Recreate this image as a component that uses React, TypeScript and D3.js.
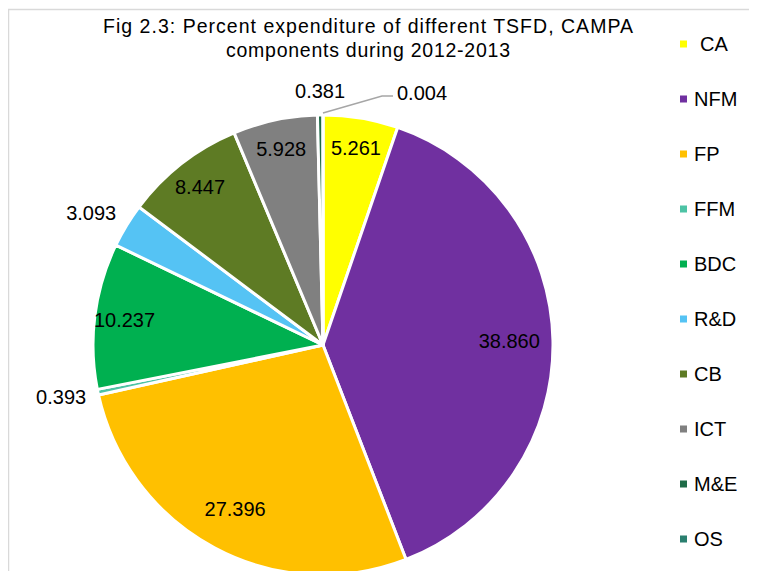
import React from "react";
import * as d3 from "d3";

const categories = ["CA", "NFM", "FP", "FFM", "BDC", "R&D", "CB", "ICT", "M&E", "OS"];
const values = [5.261, 38.86, 27.396, 0.393, 10.237, 3.093, 8.447, 5.928, 0.381, 0.004];
const colors = ["#FFFF00", "#7030A0", "#FFC000", "#4DC3A5", "#00B050", "#55C3F4", "#5E7B24", "#808080", "#1E6B47", "#2A7F6F"];
const titleLines = ["Fig 2.3: Percent expenditure of different TSFD, CAMPA", "components during 2012-2013"];
const titleWidths = [530, 284];

const W = 749;
const H = 563;
const cx = 315;
const cy = 337;
const R = 230;
const font = "'Liberation Sans', Arial, sans-serif";

type Slice = d3.PieArcDatum<number>;

const App = () => {
  const pie = d3.pie<number>().sort(null).value((d) => d);
  const arcs: Slice[] = pie(values);
  const arc = d3.arc<Slice>().innerRadius(0).outerRadius(R);
  const legendY = d3.scalePoint<string>().domain(categories).range([36, 531]);

  const mid = (a: Slice) => (a.startAngle + a.endAngle) / 2;

  return (
    <svg width={W} height={H} style={{ display: "block" }} fontFamily={font}>
      <rect x={0.5} y={1.5} width={W + 20} height={H + 20} fill="#fff" stroke="#D9D9D9" strokeWidth={1.5} />
      <g>
        {titleLines.map((t, i) => (
          <text
            key={t}
            x={360}
            y={25 + i * 24}
            textAnchor="middle"
            fontSize={19.5}
            fill="#000"
            textLength={titleWidths[i]}
            lengthAdjust="spacing"
          >
            {t}
          </text>
        ))}
      </g>
      <g transform={`translate(${cx},${cy})`}>
        {arcs.map((a, i) => (
          <path key={categories[i]} d={arc(a) || ""} fill={colors[i]} stroke="#fff" strokeWidth={3} strokeLinejoin="round" />
        ))}
        {arcs.map((a, i) => {
          const m = mid(a);
          const label = values[i].toFixed(3);
          if (values[i] >= 5) {
            const r = values[i] < 20 ? R * 0.87 : R * 0.81;
            return (
              <text key={"l" + i} x={r * Math.sin(m)} y={-r * Math.cos(m)} textAnchor="middle" dominantBaseline="central" fontSize={20} fill="#000">
                {label}
              </text>
            );
          }
          if (values[i] < 0.01) {
            // tiny slice: label pulled out with a leader line
            const sx = (R + 2) * Math.sin(m);
            const sy = -(R + 2) * Math.cos(m);
            const ey = -R - 19;
            return (
              <g key={"l" + i}>
                <polyline points={`${sx},${sy} ${59},${ey} ${70},${ey}`} fill="none" stroke="#A6A6A6" strokeWidth={1.5} />
                <text x={74} y={ey - 3} dominantBaseline="central" fontSize={20} fill="#000">
                  {label}
                </text>
              </g>
            );
          }
          const rr = R + 12;
          const s = Math.sin(m);
          const c = Math.cos(m);
          const anchor = s < -0.3 ? "end" : s > 0.3 ? "start" : "middle";
          return (
            <text key={"l" + i} x={rr * s} y={-rr * c - 12 * c} textAnchor={anchor} dominantBaseline="central" fontSize={20} fill="#000">
              {label}
            </text>
          );
        })}
      </g>
      <g>
        {categories.map((c, i) => (
          <g key={c} transform={`translate(0,${legendY(c)})`}>
            <rect x={672} y={-3.5} width={7} height={7} fill={colors[i]} />
            <text x={i === 0 ? 692 : 686} y={0} dominantBaseline="central" fontSize={20} fill="#000">
              {c}
            </text>
          </g>
        ))}
      </g>
    </svg>
  );
};

export default App;
